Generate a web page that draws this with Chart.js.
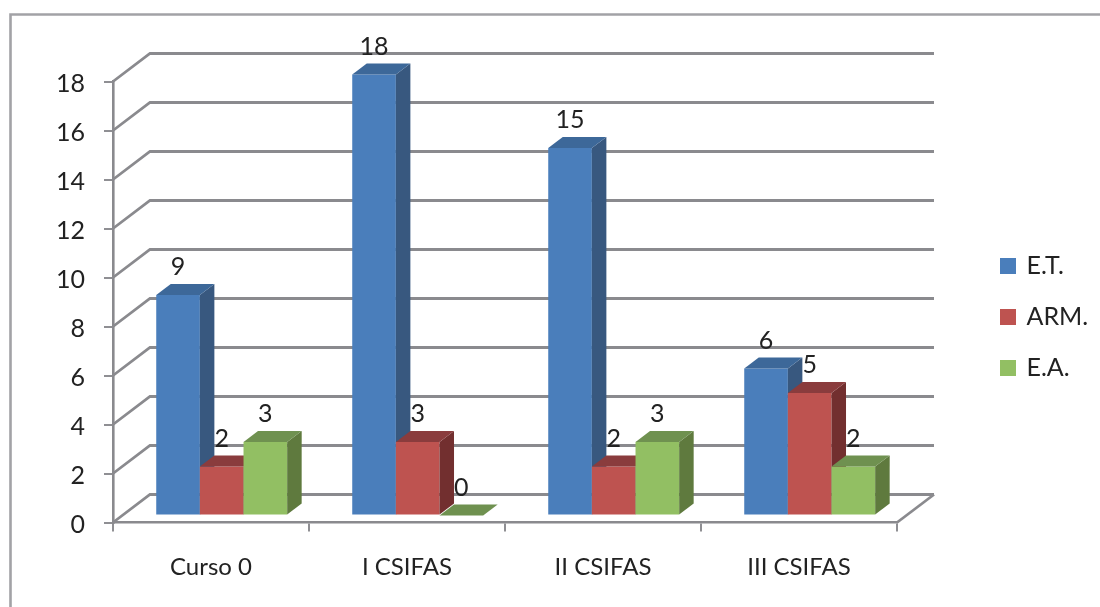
<!DOCTYPE html>
<html><head><meta charset="utf-8">
<style>html,body{margin:0;padding:0;background:#fff}canvas{display:block}</style>
<script src="https://cdn.jsdelivr.net/npm/chart.js@4"></script>
</head><body>
<canvas id="c" width="1100" height="607"></canvas>
<script>
const categories = ['Curso 0','I CSIFAS','II CSIFAS','III CSIFAS'];
const seriesNames = ['E.T.','ARM.','E.A.'];
const etValues = [9,18,15,6];
const armValues = [2,3,2,5];
const eaValues = [3,0,3,2];
const frontColors = ['#4a7ebb','#be5350','#92bf63'];
const topColors = ['#3d6899','#8a3c3d','#6f9150'];
const sideColors = ['#38587f','#722f2f','#5f7a3e'];
const FONT = 'Lato, "Open Sans", sans-serif';
const TEXT = '#222222';
const WALL = {dx:37, dy:-28};
const BAR_SHIFT = {dx:10.7, dy:-7};
const BAR_DEPTH = {dx:14.5, dy:-11};

function poly(ctx, pts, fill){
  ctx.beginPath();
  pts.forEach((p,i)=> i?ctx.lineTo(p[0],p[1]):ctx.moveTo(p[0],p[1]));
  ctx.closePath();
  ctx.fillStyle = fill;
  ctx.fill();
}
const scene = {
  id:'scene',
  afterLayout(chart){
    const l = chart.legend;
    l.left = 976; l.top = 227.5; l.right = 1100; l.bottom = 420;
  },
  beforeDraw(chart){
    const ctx = chart.ctx;
    ctx.save();
    ctx.strokeStyle = '#a2a2a6';
    ctx.lineWidth = 2.6;
    ctx.beginPath();
    ctx.moveTo(10.5,607); ctx.lineTo(10.5,14.5); ctx.lineTo(1100,14.5);
    ctx.stroke();
    ctx.restore();
  },
  beforeDatasetsDraw(chart){
    const ctx = chart.ctx, y = chart.scales.y, a = chart.chartArea;
    ctx.save();
    ctx.strokeStyle = '#8a8a8e';
    ctx.lineWidth = 2.8;
    y.ticks.forEach(t=>{
      const py = y.getPixelForValue(t.value);
      ctx.beginPath();
      ctx.moveTo(a.left,py);
      ctx.lineTo(a.left+WALL.dx,py+WALL.dy);
      ctx.lineTo(a.right+WALL.dx,py+WALL.dy);
      ctx.stroke();
    });
    const py0 = y.getPixelForValue(0);
    ctx.beginPath();
    ctx.moveTo(a.right,py0);
    ctx.lineTo(a.right+WALL.dx,py0+WALL.dy);
    ctx.stroke();
    ctx.restore();

    ctx.save();
    ctx.translate(BAR_SHIFT.dx,BAR_SHIFT.dy);
    chart.data.datasets.forEach((ds,i)=>{
      const meta = chart.getDatasetMeta(i);
      meta.controller.draw();
      meta.data.forEach(b=>{
        const l=b.x-b.width/2, r=b.x+b.width/2, t=b.y, bt=b.base;
        const d=BAR_DEPTH;
        if(bt-t>0) poly(ctx,[[r,t],[r+d.dx,t+d.dy],[r+d.dx,bt+d.dy],[r,bt]],sideColors[i]);
        poly(ctx,[[l,t],[l+d.dx,t+d.dy],[r+d.dx,t+d.dy],[r,t]],topColors[i]);
      });
    });
    ctx.fillStyle = TEXT;
    ctx.font = '25px '+FONT;
    ctx.textAlign = 'center';
    ctx.textBaseline = 'middle';
    chart.data.datasets.forEach((ds,i)=>{
      chart.getDatasetMeta(i).data.forEach((b,j)=>{
        ctx.fillText(String(ds.data[j]), b.x, b.y-28);
      });
    });
    ctx.restore();
    return false;
  }
};
new Chart(document.getElementById('c'),{
  type:'bar',
  plugins:[scene],
  data:{
    labels:categories,
    datasets:[
      {label:seriesNames[0],data:etValues,backgroundColor:frontColors[0],borderWidth:0},
      {label:seriesNames[1],data:armValues,backgroundColor:frontColors[1],borderWidth:0},
      {label:seriesNames[2],data:eaValues,backgroundColor:frontColors[2],borderWidth:0}
    ]
  },
  options:{
    responsive:false,
    animation:false,
    events:[],
    layout:{padding:{top:81.5,right:203,bottom:0,left:0}},
    datasets:{bar:{categoryPercentage:0.668,barPercentage:1}},
    plugins:{
      tooltip:{enabled:false},
      title:{display:false},
      legend:{
        position:'chartArea',
        align:'start',
        labels:{
          boxWidth:12,boxHeight:12,padding:26,color:TEXT,font:{family:FONT,size:25},
          generateLabels(chart){
            return Chart.defaults.plugins.legend.labels.generateLabels(chart).map(it=>{
              it.strokeStyle = it.fillStyle; it.lineWidth = 4; return it;
            });
          }
        }
      }
    },
    scales:{
      x:{
        afterFit(s){s.height=84.5;},
        grid:{drawOnChartArea:false,color:'#8f8f93',lineWidth:2,tickLength:9,offset:true},
        border:{color:'#8a8a8e',width:2.6},
        ticks:{color:TEXT,font:{family:FONT,size:24},padding:21,maxRotation:0}
      },
      y:{
        min:0,max:18,
        afterFit(s){s.width=113;},
        grid:{drawOnChartArea:false,color:'#8f8f93',lineWidth:2,tickLength:9},
        border:{color:'#8a8a8e',width:2.6},
        ticks:{stepSize:2,color:TEXT,font:{family:FONT,size:25},padding:19,labelOffset:2.5}
      }
    }
  }
});
</script>
</body></html>
